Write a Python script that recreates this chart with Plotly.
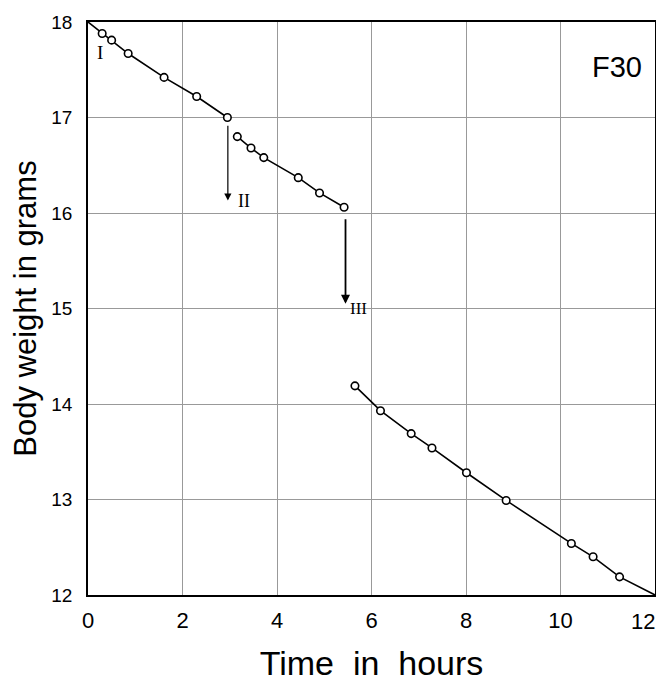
import plotly.graph_objects as go

# Data
seg1_t = [0.30, 0.50, 0.85, 1.61, 2.30, 2.95]
seg1_w = [17.88, 17.81, 17.67, 17.42, 17.22, 17.00]
seg2_t = [3.16, 3.45, 3.72, 4.45, 4.90, 5.42]
seg2_w = [16.80, 16.68, 16.58, 16.37, 16.21, 16.06]
seg3_t = [5.65, 6.19, 6.84, 7.28, 8.01, 8.85, 10.23, 10.69, 11.25]
seg3_w = [14.19, 13.93, 13.69, 13.54, 13.28, 12.99, 12.54, 12.40, 12.19]

# line extensions drawn beyond the measured points
line1_start_t, line1_start_w = 0.0, 18.0
line3_end_t, line3_end_w = 12.0, 12.0

x_ticks = [0, 2, 4, 6, 8, 10, 12]
y_ticks = [12, 13, 14, 15, 16, 17, 18]

FONT = "Liberation Sans, Arial, sans-serif"
SERIF = "Liberation Serif, DejaVu Serif, serif"

fig = go.Figure()
line_style = dict(color="black", width=1.6)

line_sets = [
    ([line1_start_t] + seg1_t, [line1_start_w] + seg1_w),
    (seg2_t, seg2_w),
    (seg3_t + [line3_end_t], seg3_w + [line3_end_w]),
]
for t, w in line_sets:
    fig.add_trace(go.Scatter(x=t, y=w, mode="lines", line=line_style,
                             showlegend=False, hoverinfo="skip"))
for t, w in [(seg1_t, seg1_w), (seg2_t, seg2_w), (seg3_t, seg3_w)]:
    fig.add_trace(go.Scatter(x=t, y=w, mode="markers",
                             marker=dict(symbol="circle", size=7.5, color="white",
                                         line=dict(width=1.6, color="black")),
                             showlegend=False))

# arrows for transitions
fig.add_annotation(x=2.96, y=16.13, ax=2.96, ay=16.93, xref="x", yref="y",
                   axref="x", ayref="y", showarrow=True, arrowhead=2,
                   arrowsize=1.2, arrowwidth=1.2, arrowcolor="black", text="")
fig.add_annotation(x=5.45, y=15.05, ax=5.45, ay=15.95, xref="x", yref="y",
                   axref="x", ayref="y", showarrow=True, arrowhead=2,
                   arrowsize=1.0, arrowwidth=1.8, arrowcolor="black", text="")

texts = [("I", 0.25, 17.68, 19, SERIF), ("II", 3.3, 16.13, 18, SERIF),
         ("III", 5.72, 15.0, 17, SERIF), ("F30", 11.2, 17.53, 29, FONT)]
for txt, xx, yy, sz, fam in texts:
    fig.add_annotation(x=xx, y=yy, xref="x", yref="y", text=txt, showarrow=False,
                       font=dict(family=fam, size=sz, color="black"))

# last x tick label, kept inside the page edge
fig.add_annotation(x=x_ticks[-1], y=0, xref="x", yref="paper", text=str(x_ticks[-1]),
                   showarrow=False, xanchor="right", yanchor="top", yshift=-12, xshift=2,
                   font=dict(family=FONT, size=22, color="black"))

fig.update_layout(
    width=656, height=674,
    margin=dict(l=80, r=9, t=14, b=87),
    paper_bgcolor="white", plot_bgcolor="white",
    font=dict(family=FONT, color="black"),
    xaxis=dict(range=[0, 12], tickvals=x_ticks[:-1], ticktext=[str(v) for v in x_ticks[:-1]],
               showgrid=True, gridcolor="#999999", gridwidth=1,
               showline=True, linecolor="black", linewidth=1.6, mirror=True,
               ticks="", tickfont=dict(size=22, family=FONT), ticklabelstandoff=5,
               zeroline=False, automargin=False,
               title=dict(text="Time  in  hours", font=dict(size=34, family=FONT), standoff=20)),
    yaxis=dict(range=[12, 18], tickvals=y_ticks, ticktext=[str(v) for v in y_ticks],
               showgrid=True, gridcolor="#999999", gridwidth=1,
               showline=True, linecolor="black", linewidth=1.6, mirror=True,
               ticks="", tickfont=dict(size=19, family=FONT), ticklabelstandoff=10,
               zeroline=False, automargin=False,
               title=dict(text="Body weight in grams", font=dict(size=31, family=FONT), standoff=8)),
)

fig.write_html("out.html")
